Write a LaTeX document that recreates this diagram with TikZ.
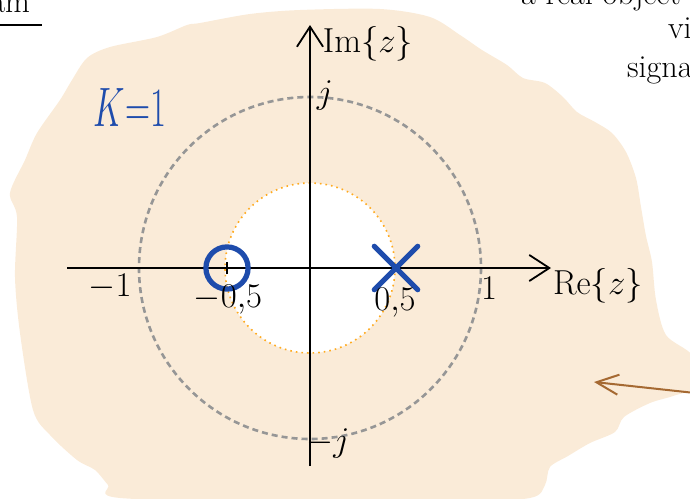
\documentclass[tikz,border=0pt]{standalone}
\usepackage{graphicx}
\usetikzlibrary{arrows.meta,shapes.misc}

\definecolor{roc}{RGB}{250,235,216}
\definecolor{pzblue}{RGB}{30,76,172}
\definecolor{unitgray}{RGB}{150,150,150}
\definecolor{roborange}{RGB}{255,170,30}
\definecolor{notebrown}{RGB}{165,105,50}

\begin{document}
\begin{tikzpicture}[x=0.0175cm,y=-0.0175cm,
  lbl/.style={font=\fontsize{17}{20}\selectfont},
  note/.style={font=\fontsize{16}{19}\selectfont},
  axis/.style={line width=0.9pt,-{Straight Barb[length=10pt,width=13pt]}},
  pzmark/.style={draw=pzblue,line width=2.6pt,inner sep=0pt,line cap=round}]

\useasboundingbox (0,0) rectangle (690,499);
\clip (0,0) rectangle (690,499);

% region of convergence
\fill[roc] plot[smooth cycle,tension=0.5] coordinates {
  (200,23) (250,14) (300,10) (380,9) (430,17) (460,35) (482,50) (507,65)
  (523,78) (545,83) (563,97) (577,112) (595,122) (612,133) (626,152)
  (636,178) (641,207) (646,236) (652,262) (656,300) (666,335) (692,355)
  (700,385) (673,396) (650,403) (624,417) (615,432) (590,443) (568,456)
  (550,467) (545,485) (530,498) (450,503) (300,503) (120,498) (108,485)
  (95,470) (77,460) (50,435) (33,410) (20,333) (15,277) (17,217) (10,193)
  (25,160) (37,133) (60,100) (72,80) (87,58) (110,47) (157,37) (187,25)};

% circles
\coordinate (o) at (310,268);
\fill[white] (o) circle (85);
\draw[roborange,line width=0.8pt,dotted] (o) circle (85);
\draw[unitgray,line width=1.3pt,dash pattern=on 3pt off 2pt] (o) circle (171);

% axes
\coordinate (xl) at (67,268);
\coordinate (xr) at (551,268);
\coordinate (yb) at (310,466);
\coordinate (yt) at (310,25);
\draw[axis] (xl) -- (xr);
\draw[axis] (yb) -- (yt);

% zero and pole
\node[pzmark,circle,minimum size=21pt] (zero) at (227,268) {};
\draw[line width=1.2pt] ([yshift=-3pt]zero.center) -- ([yshift=3pt]zero.center);
\node[pzmark,cross out,minimum size=19pt] (pole) at (396,268) {};

% labels
\node[lbl] (mone) at (110,287) {$-1$};
\node[lbl] (mhalf) at (228,300) {$-0{,}5$};
\node[lbl] (phalf) at (395,303) {$0{,}5$};
\node[lbl] (one) at (489,288) {$1$};
\node[lbl] (re) at (598,286) {$\mathrm{Re}\{z\}$};
\node[lbl] (im) at (368,44) {$\mathrm{Im}\{z\}$};
\node[lbl] (jp) at (325,95) {$j$};
\node[lbl] (jm) at (328,443) {$-j$};
\node[text=pzblue] (gain) at (130,108) {\scalebox{1}[1.6]{\fontsize{18}{20}\selectfont$K{=}1$}};

% cut-off notes
\node[note,anchor=base east] (title) at (37,12) {Diagram};
\draw[line width=0.8pt] (title.south west |- 0,25) -- (42,25);
\node[note,anchor=base east] (obj) at (688,4) {a real object};
\node[note,anchor=base west] (vi) at (661,38) {virtual};
\node[note,anchor=base west] (sig) at (620,77) {signal};

% note arrow
\coordinate (ns) at (695,393);
\coordinate (ne) at (594,382);
\draw[notebrown,line width=1pt,-{Straight Barb[length=11pt,width=10pt]}] (ns) -- (ne);

\end{tikzpicture}
\end{document}
